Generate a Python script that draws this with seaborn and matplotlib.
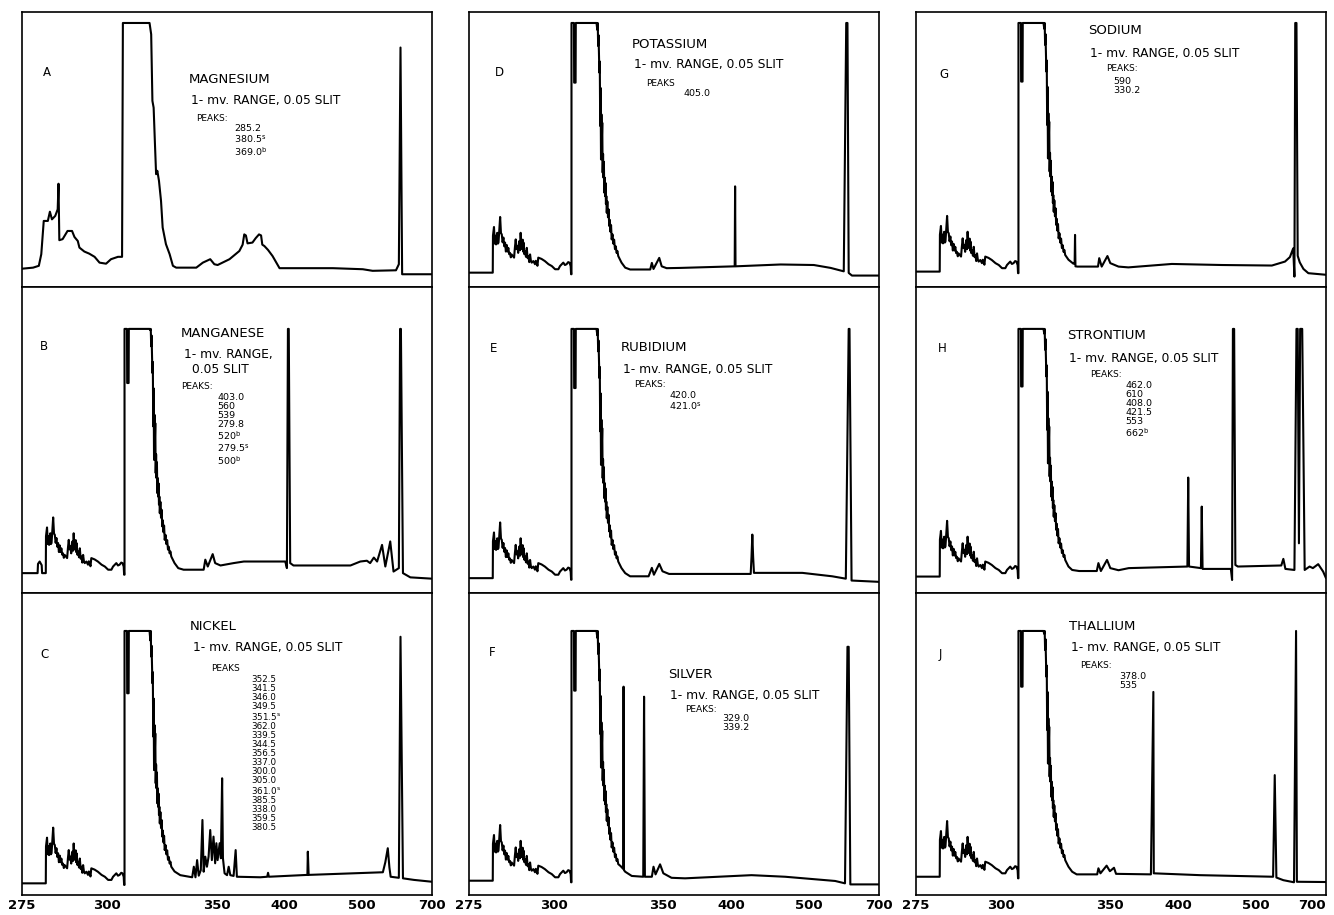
import numpy as np
import matplotlib
matplotlib.use("Agg")
import matplotlib.pyplot as plt
import seaborn as sns

# x = position along the recorder chart (% of width), the wavelength scale is not linear
TICK_POS = [0, 20.7, 47.4, 64.0, 82.9, 93.2, 100]
TICK_NM = ["275", "300", "350", "400", "500", "", "700"]
FULL_SCALE = 100  # pen stops at full scale

# background emission seen in every run (height above the run's zero line)
LAMP = [(5.8, 0), (5.85, 14.0), (6.1, 17.3), (6.3, 11.0), (6.45, 14.0), (6.6, 10.7), (6.9, 15.1),
        (7.05, 11.0), (7.2, 11.4), (7.4, 16.0), (7.6, 21.1), (7.8, 15.0), (8.0, 14.5), (8.2, 11.5),
        (8.4, 13.3), (8.6, 10.0), (8.8, 11.4), (9.0, 8.0), (9.2, 10.5), (9.4, 8.0), (9.6, 9.4),
        (9.8, 7.0), (10.0, 7.5), (10.2, 5.8), (10.4, 6.9), (11.0, 5.7), (11.2, 9.5), (11.4, 12.6),
        (11.6, 9.0), (11.8, 10.1), (12.0, 7.5), (12.15, 10.5), (12.3, 12.0), (12.45, 8.5), (12.6, 15.1),
        (12.8, 9.0), (12.9, 9.4), (13.1, 12.5), (13.2, 8.0), (13.3, 11.4), (13.5, 7.0), (13.7, 8.2),
        (13.9, 6.0), (14.1, 9.4), (14.3, 5.5), (14.5, 6.3), (14.7, 4.0), (14.9, 6.9), (15.1, 4.5),
        (15.3, 3.8), (15.7, 4.4), (16.1, 3.2), (16.3, 4.5), (16.5, 3.8), (16.7, 2.6), (16.9, 5.7),
        (17.7, 5.2), (18.5, 4.4), (19.4, 3.2), (20.2, 2.5), (21.0, 1.3), (21.8, 1.3), (22.2, 2.5),
        (23.0, 3.8), (23.4, 2.9), (23.8, 3.2), (24.2, 4.0), (24.5, 3.8), (24.8, 2.5), (24.9, -0.6),
        (25.0, -0.6), (25.0, 110), (25.6, 110), (25.65, 72), (26.0, 72), (26.05, 110), (31.1, 110),
        (31.3, 92), (31.4, 100), (31.5, 85.9), (31.6, 90), (31.8, 75.8), (31.9, 80), (32.0, 55.6),
        (32.1, 70), (32.2, 42.9), (32.3, 60), (32.4, 50), (32.5, 56.8), (32.6, 37.9), (32.7, 45),
        (32.8, 36), (32.9, 42), (33.0, 30.3), (33.1, 36), (33.2, 29), (33.3, 34), (33.4, 26),
        (33.5, 29), (33.6, 22.7), (33.75, 27), (33.9, 21), (34.05, 24), (34.2, 17.7), (34.35, 20),
        (34.5, 15.5), (34.65, 18), (34.8, 12.6), (35.0, 14.5), (35.2, 11), (35.4, 12.5), (35.6, 8.9),
        (35.8, 10), (36.0, 7.5), (36.2, 8.2), (36.4, 6.3)]

# magnesium run (own trace, absolute)
A_PTS = [(0, 6.9), (2.7, 7.3), (4.1, 8.0), (4.7, 12.4), (5.3, 25.0), (6.3, 25.0), (6.8, 28.5),
         (7.3, 25.6), (8.1, 26.9), (8.7, 29.4), (8.9, 39.1), (9.1, 17.7), (9.9, 18.1), (10.6, 19.9),
         (11.1, 21.2), (12.2, 21.2), (12.8, 18.9), (13.6, 17.4), (14.0, 14.9), (15.2, 13.4),
         (16.4, 12.6), (17.7, 11.4), (18.9, 9.2), (20.5, 8.8), (21.7, 10.5), (23.4, 11.4),
         (24.4, 11.4), (24.6, 110), (31.1, 110), (31.5, 95.7), (31.8, 70.5), (32.1, 67.9),
         (32.4, 55.0), (32.7, 42.7), (33.0, 44.0), (33.4, 40.2), (33.9, 32.6), (34.3, 22.5),
         (35.1, 16.2), (36.0, 12.4), (36.8, 8.0), (37.6, 7.3), (42.5, 7.3), (44.1, 9.2), (45.9, 10.5),
         (46.9, 8.6), (47.7, 8.3), (50.6, 10.5), (53.0, 13.6), (53.8, 16.0), (54.2, 19.9), (54.6, 19.5),
         (55.0, 16.5), (56.2, 16.8), (57.0, 18.5), (57.8, 19.9), (58.3, 19.5), (58.6, 16.0),
         (59.1, 15.5), (60.0, 14.0), (61.1, 11.7), (62.8, 7.1), (75.8, 7.1), (83.1, 6.7), (85.5, 6.1),
         (91.2, 6.3), (91.9, 8.6), (92.3, 90.7), (92.7, 4.8), (100, 4.8)]

B_HEAD = [(0, 0), (3.8, 0), (3.9, 3.5), (4.3, 4.4), (4.8, 3.0), (4.9, 0)]
B_TAIL = [(37.2, 3.8), (38.1, 1.9), (39.4, 1.3), (44.3, 1.3), (44.7, 5.1), (45.3, 2.5), (46.5, 7.2),
          (47.1, 3.8), (48.4, 2.9), (51.6, 3.8), (54.1, 4.4), (64.2, 4.4), (64.6, 1.9), (64.85, 110),
          (65.05, 110), (65.4, 3.8), (66.2, 2.9), (80.1, 2.9), (82.5, 4.4), (84.1, 4.7), (84.9, 3.8),
          (85.8, 5.9), (86.6, 4.4), (87.8, 10.7), (88.6, 2.5), (89.8, 12.0), (90.6, 0.6), (91.9, 1.9),
          (92.2, 110), (92.4, 110), (92.9, 0), (94.7, -1.6), (100, -2.1)]
C_TAIL = [(37.2, 4.5), (38.6, 3.1), (41.5, 2.3), (41.9, 6.3), (42.3, 2.3), (42.7, 8.8), (43.1, 2.9),
          (43.6, 5.0), (44.0, 24.0), (44.3, 4.4), (44.7, 10.1), (45.1, 6.3), (45.5, 10.1), (45.9, 20.2),
          (46.3, 8.8), (46.7, 17.7), (47.1, 7.6), (47.4, 15.2), (47.7, 8.8), (48.2, 15.2), (48.5, 9.5),
          (48.8, 39.8), (49.0, 9.5), (49.4, 3.8), (50.0, 3.1), (50.4, 6.3), (50.8, 3.1), (51.6, 2.8),
          (52.1, 12.6), (52.4, 2.5), (58.1, 2.3), (59.8, 2.5), (60.0, 4.0), (60.2, 2.5), (69.6, 3.2),
          (69.7, 12.0), (69.9, 3.2), (88.0, 4.2), (88.6, 8.0), (89.2, 13.3), (89.6, 6.0), (89.9, 2.5),
          (91.9, 2.1), (92.3, 93.4), (92.9, 1.9), (95.6, 1.3), (100, 0.6)]
D_TAIL = [(37.2, 3.8), (38.1, 1.9), (39.3, 1.2), (44.2, 1.2), (44.6, 3.7), (45.0, 1.4), (46.4, 5.6),
          (47.0, 2.4), (48.2, 1.7), (51.6, 1.8), (64.8, 2.4), (64.9, 32.7), (65.0, 2.4), (76.0, 3.1),
          (84.1, 2.9), (88.2, 1.8), (91.4, 0.5), (92.0, 110), (92.3, 110), (92.6, -0.1), (93.4, -1.1),
          (100, -1.1)]
E_TAIL = [(37.2, 3.8), (38.1, 1.9), (39.3, 0.7), (43.8, 0.7), (44.6, 3.9), (45.1, 1.3), (46.4, 5.4),
          (47.2, 2.6), (48.8, 1.6), (68.7, 1.6), (68.9, 8.0), (69.1, 16.5), (69.3, 8.0), (69.5, 2.0),
          (81.3, 2.0), (88.6, 0.7), (91.9, -0.2), (92.6, 110), (92.8, 110), (93.3, -0.9), (100, -1.4)]
F_TAIL = [(37.0, 5.5), (37.6, 4.5), (37.7, 73.5), (37.8, 4.0), (38.1, 3.4), (39.7, 1.8), (42.5, 1.5),
          (42.7, 69.7), (42.9, 1.5), (44.6, 1.5), (45.0, 5.3), (45.5, 2.4), (46.6, 6.2), (47.4, 2.8),
          (49.4, 1.1), (52.7, 0.9), (68.9, 2.1), (77.1, 1.5), (89.3, -0.1), (91.7, -1.0), (92.3, 88.6),
          (92.6, 88.6), (93.0, -1.4), (100, -1.4)]
G_TAIL = [(37.2, 4.5), (38.4, 3.0), (38.7, 3.0), (38.8, 13.9), (38.9, 2.0), (39.4, 1.9), (44.4, 1.9),
          (44.7, 5.1), (45.3, 1.9), (46.7, 5.9), (47.4, 3.2), (49.4, 1.9), (51.8, 1.6), (62.4, 2.9),
          (74.6, 2.5), (86.8, 2.3), (90.0, 3.8), (91.2, 5.5), (92.0, 8.8), (92.3, -1.9), (92.5, 110),
          (92.8, 110), (93.1, 6.0), (93.6, 3.5), (94.5, 1.0), (95.7, -0.6), (100, -1.2)]
H_TAIL = [(37.2, 3.8), (38.1, 2.5), (39.8, 2.1), (44.1, 2.1), (44.5, 5.1), (45.1, 2.1), (46.6, 6.3),
          (47.4, 3.2), (49.4, 2.4), (51.9, 3.2), (66.2, 3.8), (66.4, 37.5), (66.6, 3.8), (69.5, 3.2),
          (69.7, 26.5), (69.9, 2.9), (76.8, 2.9), (77.1, -1.3), (77.3, 110), (77.6, 110), (77.9, 4.4),
          (78.5, 3.8), (89.1, 4.2), (89.6, 6.7), (90.1, 2.9), (92.3, 2.5), (92.8, 110), (93.1, 110),
          (93.4, 12.6), (93.7, 110), (94.2, 110), (94.8, 2.5), (96.0, 3.8), (96.8, 3.2), (98.1, 4.7),
          (99.3, 1.9), (100, -0.6)]
J_TAIL = [(37.2, 3.8), (38.1, 1.9), (39.2, 0.9), (44.2, 0.9), (44.5, 3.2), (45.0, 1.3), (46.5, 4.2),
          (47.3, 2.1), (48.3, 3.4), (48.8, 1.1), (57.3, 0.9), (57.9, 70.0), (58.0, 1.3), (69.3, 0.6),
          (87.1, 0.0), (87.5, 38.5), (87.9, -0.3), (89.6, -1.3), (92.2, -2.1), (92.7, 110), (92.9, -1.9),
          (100, -2.0)]

# recorder zero of each run (chart units above the base line)
ZERO = {"A": 0, "B": 7.5, "C": 4.4, "D": 5.4, "E": 5.6, "F": 5.4, "G": 5.8, "H": 6.2, "J": 6.9}

ELEMENTS = {"A": "MAGNESIUM", "B": "MANGANESE", "C": "NICKEL", "D": "POTASSIUM", "E": "RUBIDIUM",
            "F": "SILVER", "G": "SODIUM", "H": "STRONTIUM", "J": "THALLIUM"}
PEAKS = {
    "A": ["285.2", "380.5$^\\mathrm{s}$", "369.0$^\\mathrm{b}$"],
    "B": ["403.0", "560", "539", "279.8", "520$^\\mathrm{b}$", "279.5$^\\mathrm{s}$", "500$^\\mathrm{b}$"],
    "C": ["352.5", "341.5", "346.0", "349.5", "351.5$^\\mathrm{s}$", "362.0", "339.5", "344.5", "356.5",
          "337.0", "300.0", "305.0", "361.0$^\\mathrm{s}$", "385.5", "338.0", "359.5", "380.5"],
    "D": ["405.0"],
    "E": ["420.0", "421.0$^\\mathrm{s}$"],
    "F": ["329.0", "339.2"],
    "G": ["590", "330.2"],
    "H": ["462.0", "610", "408.0", "421.5", "553", "662$^\\mathrm{b}$"],
    "J": ["378.0", "535"],
}

TRACES = {"A": A_PTS, "B": B_HEAD + LAMP + B_TAIL, "C": [(0, 0)] + LAMP + C_TAIL,
          "D": [(0, 0)] + LAMP + D_TAIL, "E": [(0, 0)] + LAMP + E_TAIL, "F": [(0, 0)] + LAMP + F_TAIL,
          "G": [(0, 0)] + LAMP + G_TAIL, "H": [(0, 0)] + LAMP + H_TAIL, "J": [(0, 0)] + LAMP + J_TAIL}

# layout
GRID = {"A": (0, 0), "B": (1, 0), "C": (2, 0), "D": (0, 1), "E": (1, 1), "F": (2, 1),
        "G": (0, 2), "H": (1, 2), "J": (2, 2)}
ROW_TOP = [104.2, 115.9, 114.4]
LETTER_XY = {"A": (6.1, 81.4), "B": (5.4, 93.2), "C": (5.4, 91.2), "D": (7.5, 81.1), "E": (6.1, 92.5),
             "F": (5.6, 91.9), "G": (6.8, 80.5), "H": (6.5, 92.5), "J": (5.9, 90.9)}
NAME_XY = {"A": (40.6, 78.4), "B": (38.8, 98.4), "C": (41.0, 101.6), "D": (39.8, 92.0), "E": (37.1, 93.1),
           "F": (48.5, 83.6), "G": (42.0, 97.0), "H": (36.8, 97.5), "J": (37.4, 101.6)}
RANGE_LINES = {"A": [("1- mv. RANGE, 0.05 SLIT", 41.1, 70.5)],
               "B": [("1- mv. RANGE,", 39.6, 90.2), ("0.05 SLIT", 41.4, 84.5)],
               "C": [("1- mv. RANGE, 0.05 SLIT", 41.6, 93.7)],
               "D": [("1- mv. RANGE, 0.05 SLIT", 40.2, 84.1)],
               "E": [("1- mv. RANGE, 0.05 SLIT", 37.5, 84.8)],
               "F": [("1- mv. RANGE, 0.05 SLIT", 49.1, 75.5)],
               "G": [("1- mv. RANGE, 0.05 SLIT", 42.4, 88.5)],
               "H": [("1- mv. RANGE, 0.05 SLIT", 37.4, 88.9)],
               "J": [("1- mv. RANGE, 0.05 SLIT", 37.8, 93.7)]}
PEAKS_XY = {"A": (42.5, 63.9), "B": (38.8, 78.1), "C": (46.0, 85.6), "D": (43.2, 77.2), "E": (40.2, 78.8),
            "F": (52.8, 70.1), "G": (46.3, 82.8), "H": (42.4, 82.6), "J": (40.0, 86.9)}
VALUES_XY = {"A": (51.8, 61.7), "B": (47.6, 75.6), "C": (55.8, 83.3), "D": (52.2, 75.0), "E": (48.9, 76.3),
             "F": (61.7, 68.4), "G": (48.1, 79.4), "H": (51.0, 80.3), "J": (49.6, 84.4)}

sns.set_theme(style="white")
plt.rcParams["font.family"] = ["DejaVu Sans"]
plt.rcParams["mathtext.fontset"] = "dejavusans"
plt.rcParams["text.color"] = "black"
plt.rcParams["xtick.color"] = "black"

fig, axes = plt.subplots(3, 3, figsize=(13.34, 9.15), dpi=100,
                         gridspec_kw=dict(height_ratios=[275, 306, 302], hspace=0, wspace=0.09,
                                          left=0.0165, right=0.994, top=0.987, bottom=0.0219))

for key, (r, c) in GRID.items():
    ax = axes[r, c]
    x, y = map(np.array, zip(*TRACES[key]))
    y = np.minimum(y + ZERO[key], FULL_SCALE)
    sns.lineplot(x=x, y=y, sort=False, estimator=None, color="black", lw=1.5, ax=ax)

    ax.set_xlim(0, 100)
    ax.set_ylim(0, ROW_TOP[r])
    ax.set_yticks([])
    ax.set_xticks(TICK_POS)
    ax.set_xticklabels(TICK_NM, fontweight="bold")
    ax.set_xlabel("")
    ax.set_ylabel("")
    ax.tick_params(axis="x", direction="in", length=6, width=1.0, color="black", pad=3,
                   labelsize=9.5, labelcolor="black", labelbottom=(r == 2))
    if r == 2 and c == 2:
        ax.get_xticklabels()[-1].set_horizontalalignment("right")
    for s in ax.spines.values():
        s.set_visible(True)
        s.set_color("black")
        s.set_linewidth(1.2)

    ax.text(*LETTER_XY[key], key, fontsize=8.5, ha="center", va="center")
    ax.text(*NAME_XY[key], ELEMENTS[key], fontsize=9.5, ha="left", va="center")
    for txt, tx, ty in RANGE_LINES[key]:
        ax.text(tx, ty, txt, fontsize=8.8, ha="left", va="center")
    ax.text(*PEAKS_XY[key], "PEAKS" if key in ("C", "D") else "PEAKS:",
            fontsize=6.5, ha="left", va="center")
    ax.text(*VALUES_XY[key], "\n".join(PEAKS[key]), fontsize=6.3 if key == "C" else 6.8,
            ha="left", va="top", linespacing=1.0)

fig.savefig("out.png", dpi=100, facecolor="white")
